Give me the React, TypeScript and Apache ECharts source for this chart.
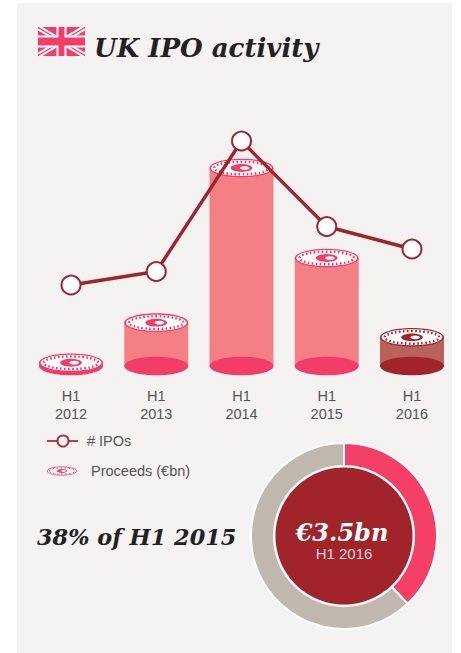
import React, { useEffect, useRef } from "react";
import * as echarts from "echarts";

const categories = ["H1\n2012", "H1\n2013", "H1\n2014", "H1\n2015", "H1\n2016"];
const proceeds = [0.4, 5.3, 24.2, 13.2, 3.5];
const ipos = [18, 21, 50, 31, 26];
const donutData = [
  { name: "H1 2016", value: 38 },
  { name: "Rest of H1 2015", value: 62 },
];

const PINK = "#f23d68";
const BODY = "#f48086";
const DARK = "#a0242a";
const DARK_BODY = "#b9625a";
const SERIF = "'DejaVu Serif', serif";
const SANS = "'Liberation Sans', Arial, sans-serif";

function coin(cx: number, cy: number, rx: number, ry: number, col: string, band = 2.4) {
  const e = (fx: number, fy: number, style: any, dx = 0) => ({
    type: "ellipse",
    shape: { cx: cx + dx, cy, rx: rx * fx, ry: ry * fy },
    style,
  });
  return [
    e(1, 1, { fill: col }),
    e(0.95, 0.86, { fill: "#fff" }),
    e(0.85, 0.68, { fill: "none", stroke: col, lineWidth: band, lineDash: [1.6, 2.4] }),
    e(0.34, 0.42, { fill: col }),
    e(0.15, 0.2, { fill: "#fff" }, rx * 0.1),
  ];
}

function renderCylinder(params: any, api: any) {
  const i = api.value(0);
  const base = api.coord([i, 0]);
  const top = api.coord([i, api.value(1)]);
  const last = params.dataIndex === proceeds.length - 1;
  const rx = 32;
  const ry = 9.3;
  const children: any[] = [
    {
      type: "rect",
      shape: { x: base[0] - rx, y: top[1], width: rx * 2, height: base[1] - top[1] },
      style: { fill: last ? DARK_BODY : BODY },
    },
    {
      type: "ellipse",
      shape: { cx: base[0], cy: base[1], rx, ry },
      style: { fill: last ? DARK : PINK },
    },
    ...coin(top[0], top[1], rx, ry, last ? DARK : PINK),
  ];
  return { type: "group", children };
}

function flag() {
  const x = 38, y = 27, w = 47, h = 29;
  const line = (x1: number, y1: number, x2: number, y2: number, lw: number, c: string) => ({
    type: "line",
    shape: { x1, y1, x2, y2 },
    style: { stroke: c, lineWidth: lw },
  });
  return {
    type: "group",
    children: [
      { type: "rect", shape: { x, y, width: w, height: h }, style: { fill: PINK } },
      line(x + 1, y + 1, x + w - 1, y + h - 1, 5, "#fff"),
      line(x + w - 1, y + 1, x + 1, y + h - 1, 5, "#fff"),
      line(x + 1, y + 1, x + w - 1, y + h - 1, 1.4, PINK),
      line(x + w - 1, y + 1, x + 1, y + h - 1, 1.4, PINK),
      { type: "rect", shape: { x: x + w / 2 - 5, y, width: 10, height: h }, style: { fill: "#fff" } },
      { type: "rect", shape: { x, y: y + h / 2 - 6, width: w, height: 12 }, style: { fill: "#fff" } },
      { type: "rect", shape: { x: x + w / 2 - 3, y, width: 6, height: h }, style: { fill: PINK } },
      { type: "rect", shape: { x, y: y + h / 2 - 4, width: w, height: 8 }, style: { fill: PINK } },
    ],
  };
}

export default function App() {
  const ref = useRef<HTMLDivElement>(null);
  useEffect(() => {
    document.body.style.margin = "0";
    const chart = echarts.init(ref.current!, null, { renderer: "svg" });
    chart.setOption({
      animation: false,
      backgroundColor: "#ffffff",
      grid: { left: 28.4, top: 96, width: 426.2, height: 270 },
      xAxis: {
        type: "category",
        data: categories,
        axisLine: { show: false },
        axisTick: { show: false },
        axisLabel: { color: "#555", fontFamily: SANS, fontSize: 14.5, lineHeight: 18, margin: 21 },
      },
      yAxis: [
        { type: "value", min: 0, max: 33, show: false },
        { type: "value", min: 0, max: 60, show: false },
      ],
      series: [
        {
          type: "custom",
          name: "Proceeds (€bn)",
          yAxisIndex: 0,
          renderItem: renderCylinder,
          encode: { x: 0, y: 1 },
          data: proceeds.map((v, i) => [i, v]),
          z: 2,
          clip: false,
        },
        {
          type: "line",
          name: "# IPOs",
          yAxisIndex: 1,
          data: ipos,
          symbol: "circle",
          symbolSize: 19,
          lineStyle: { color: DARK, width: 3.4 },
          itemStyle: { color: "#fff", borderColor: DARK, borderWidth: 2, opacity: 1 },
          z: 3,
        },
        {
          type: "pie",
          center: [344, 536],
          radius: [70, 93],
          startAngle: 90,
          clockwise: true,
          silent: true,
          label: { show: false },
          labelLine: { show: false },
          itemStyle: { borderColor: "#fff", borderWidth: 2 },
          data: [
            { ...donutData[0], itemStyle: { color: "#f43f69" } },
            { ...donutData[1], itemStyle: { color: "#c0b8ae" } },
          ],
          z: 2,
        },
        {
          type: "pie",
          center: [344, 536],
          radius: [0, 68.5],
          silent: true,
          label: { show: false },
          labelLine: { show: false },
          data: [{ name: "H1 2016 proceeds", value: 3.5, itemStyle: { color: DARK } }],
          z: 2,
        },
      ],
      graphic: [
        {
          type: "rect",
          silent: true,
          z: -10,
          shape: { x: 17, y: 3, width: 435, height: 650 },
          style: { fill: "#f4f3f2" },
        },
        flag(),
        {
          type: "text", x: 94, y: 48, z: 5,
          style: { text: "UK IPO activity", font: `italic bold 26px ${SERIF}`, fill: "#222", textVerticalAlign: "middle" },
        },
        { type: "line", shape: { x1: 47, y1: 441, x2: 78, y2: 441 }, style: { stroke: DARK, lineWidth: 2, opacity: 0.85 }, z: 5 },
        { type: "circle", shape: { cx: 63, cy: 441, r: 5.5 }, style: { fill: "#fff", stroke: DARK, lineWidth: 2, opacity: 0.9 }, z: 5 },
        {
          type: "text", x: 87, y: 441, z: 5,
          style: { text: "# IPOs", font: `14.5px ${SANS}`, fill: "#555", textVerticalAlign: "middle" },
        },
        ...coin(62, 471, 15, 4.5, PINK, 1).map((c) => ({ ...c, z: 5 })),
        {
          type: "text", x: 91, y: 471, z: 5,
          style: { text: "Proceeds (€bn)", font: `14.5px ${SANS}`, fill: "#555", textVerticalAlign: "middle" },
        },
        {
          type: "text", x: 37, y: 537, z: 5,
          style: { text: "38% of H1 2015", font: `italic bold 22.4px ${SERIF}`, fill: "#222", textVerticalAlign: "middle" },
        },
        {
          type: "text", x: 342, y: 532, z: 5,
          style: { text: "€3.5bn", font: `italic bold 24px ${SERIF}`, fill: "#fff", textAlign: "center", textVerticalAlign: "middle" },
        },
        {
          type: "text", x: 344, y: 553.5, z: 5,
          style: { text: "H1 2016", font: `15px ${SANS}`, fill: "#ecd5d5", textAlign: "center", textVerticalAlign: "middle" },
        },
      ],
    });
    return () => chart.dispose();
  }, []);
  return <div ref={ref} style={{ width: 461, height: 653 }} />;
}
